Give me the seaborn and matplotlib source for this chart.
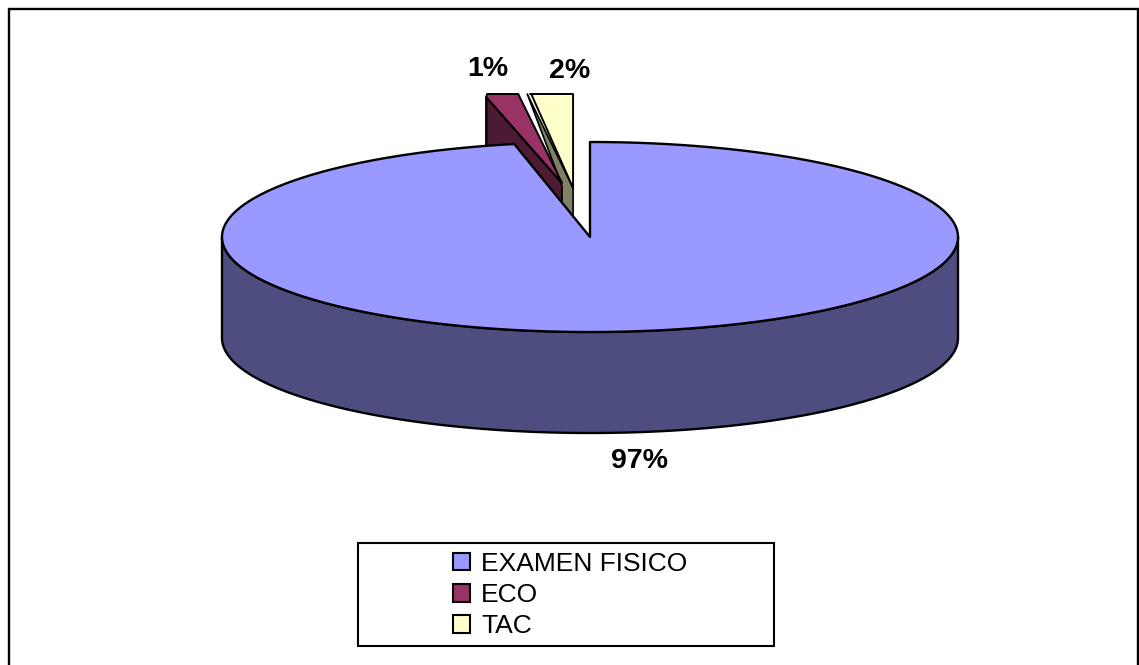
import numpy as np
import matplotlib
matplotlib.use("Agg")
import matplotlib.pyplot as plt
from matplotlib.patches import Polygon, Rectangle
import seaborn as sns

categories = ["EXAMEN FISICO", "ECO", "TAC"]
shares = [96.7, 1.4, 1.9]
labels = ["97%", "1%", "2%"]
top_colors = ["#9999FF", "#993366", "#FFFFCC"]
side_colors = ["#4D4D80", "#4D1A33", "#808066"]

sns.set_theme(style="white")
plt.rcParams["font.family"] = ["Liberation Sans", "DejaVu Sans"]
W, H = 1139, 665
fig = plt.figure(figsize=(W / 100, H / 100), dpi=100, facecolor="white")
ax = fig.add_axes([0, 0, 1, 1])
ax.set_xlim(0, W)
ax.set_ylim(H, 0)
ax.axis("off")

CX, CY, RX, RY, DEPTH = 590, 237, 368, 95, 101
LW = 1.7
EXPLODE = {1: (0.076, 0.568), 2: (0.046, 0.516)}
CLIP_TOP = 94

# Fractions run clockwise from twelve o'clock, with TAC and ECO ending the circle.
frac = np.array(shares) / sum(shares)
start = {0: 0.0, 1: frac[0], 2: frac[0] + frac[1]}


def pt(f, c=(CX, CY)):
    a = 2 * np.pi * f
    return np.array([c[0] + RX * np.sin(a), c[1] - RY * np.cos(a)])


def arc(f0, f1, c=(CX, CY), n=400):
    return np.array([pt(f, c) for f in np.linspace(f0, f1, n)])


def poly(xy, fc, z, lw=LW):
    ax.add_patch(Polygon(np.asarray(xy), closed=True, fc=fc, ec="black", lw=lw,
                         joinstyle="round", zorder=z))


def clipped(xy):
    xy = np.asarray(xy).copy()
    xy[:, 1] = np.maximum(xy[:, 1], CLIP_TOP)
    return xy


# exploded slices
tips = {}
for i in (1, 2):
    ex, ey = EXPLODE[i]
    tips[i] = np.array([CX - RX * ex, CY - RY * ey])

d = np.array([0, DEPTH])
eco_left = np.array([pt(start[1], tips[1])[0], CLIP_TOP + 3])
tac_left = clipped(arc(start[2], start[2], tips[2], 1))[0]

# cut faces
poly([eco_left, tips[1], tips[1] + d, eco_left + d], side_colors[1], 2)
poly([tac_left - [2, 0], tips[2], tips[2] + d, tips[1] + d, tips[1] + [0, 3]],
     side_colors[2], 2, lw=1.2)

# top faces of exploded slices
eco_arc = clipped(arc(start[1], start[1] + frac[1], tips[1], 40))
eco_arc[0] = eco_left
poly(np.vstack([tips[1], eco_arc]), top_colors[1], 3, lw=1.4)
tac_arc = clipped(arc(start[2], 1.0, tips[2], 40))
tac_arc[0, 0] += 2
poly(np.vstack([tips[2], tac_arc]), top_colors[2], 3, lw=1.4)

# main slice: rim, then top
front = arc(0.25, 0.75)
rim = np.vstack([front, (front + d)[::-1]])
poly(rim, side_colors[0], 4)
main_arc = arc(0, frac[0], n=800)
poly(np.vstack([[CX, CY], main_arc]), top_colors[0], 5)

# data labels
lab_pos = [(640, 461), (488, 69), (570, 71)]
for s, (x, y) in zip(labels, lab_pos):
    ax.text(x, y, s, fontsize=20.5, fontweight="bold", color="black",
            ha="center", va="center", zorder=6)

# legend
ax.add_patch(Rectangle((357.5, 542.5), 416, 103, fc="white", ec="black", lw=1.5, zorder=6))
handles = [Rectangle((0, 0), 1, 1, fc=c, ec="black", lw=1.5) for c in top_colors]
leg = ax.legend(handles, categories, loc="center left", bbox_to_anchor=(453, 595),
                bbox_transform=ax.transData, frameon=False, fontsize=19,
                borderpad=0, borderaxespad=0, labelspacing=0.28,
                handlelength=0.65, handleheight=0.65, handletextpad=0.42,
                labelcolor="black")
leg.set_zorder(7)

# chart frame: left, top and right edges only
ax.plot([8.5, 8.5, 1137.5, 1137.5], [H, 8.5, 8.5, H], color="black", lw=1.7, zorder=1,
        solid_joinstyle="miter")

fig.savefig("out.png", dpi=100, facecolor="white")
